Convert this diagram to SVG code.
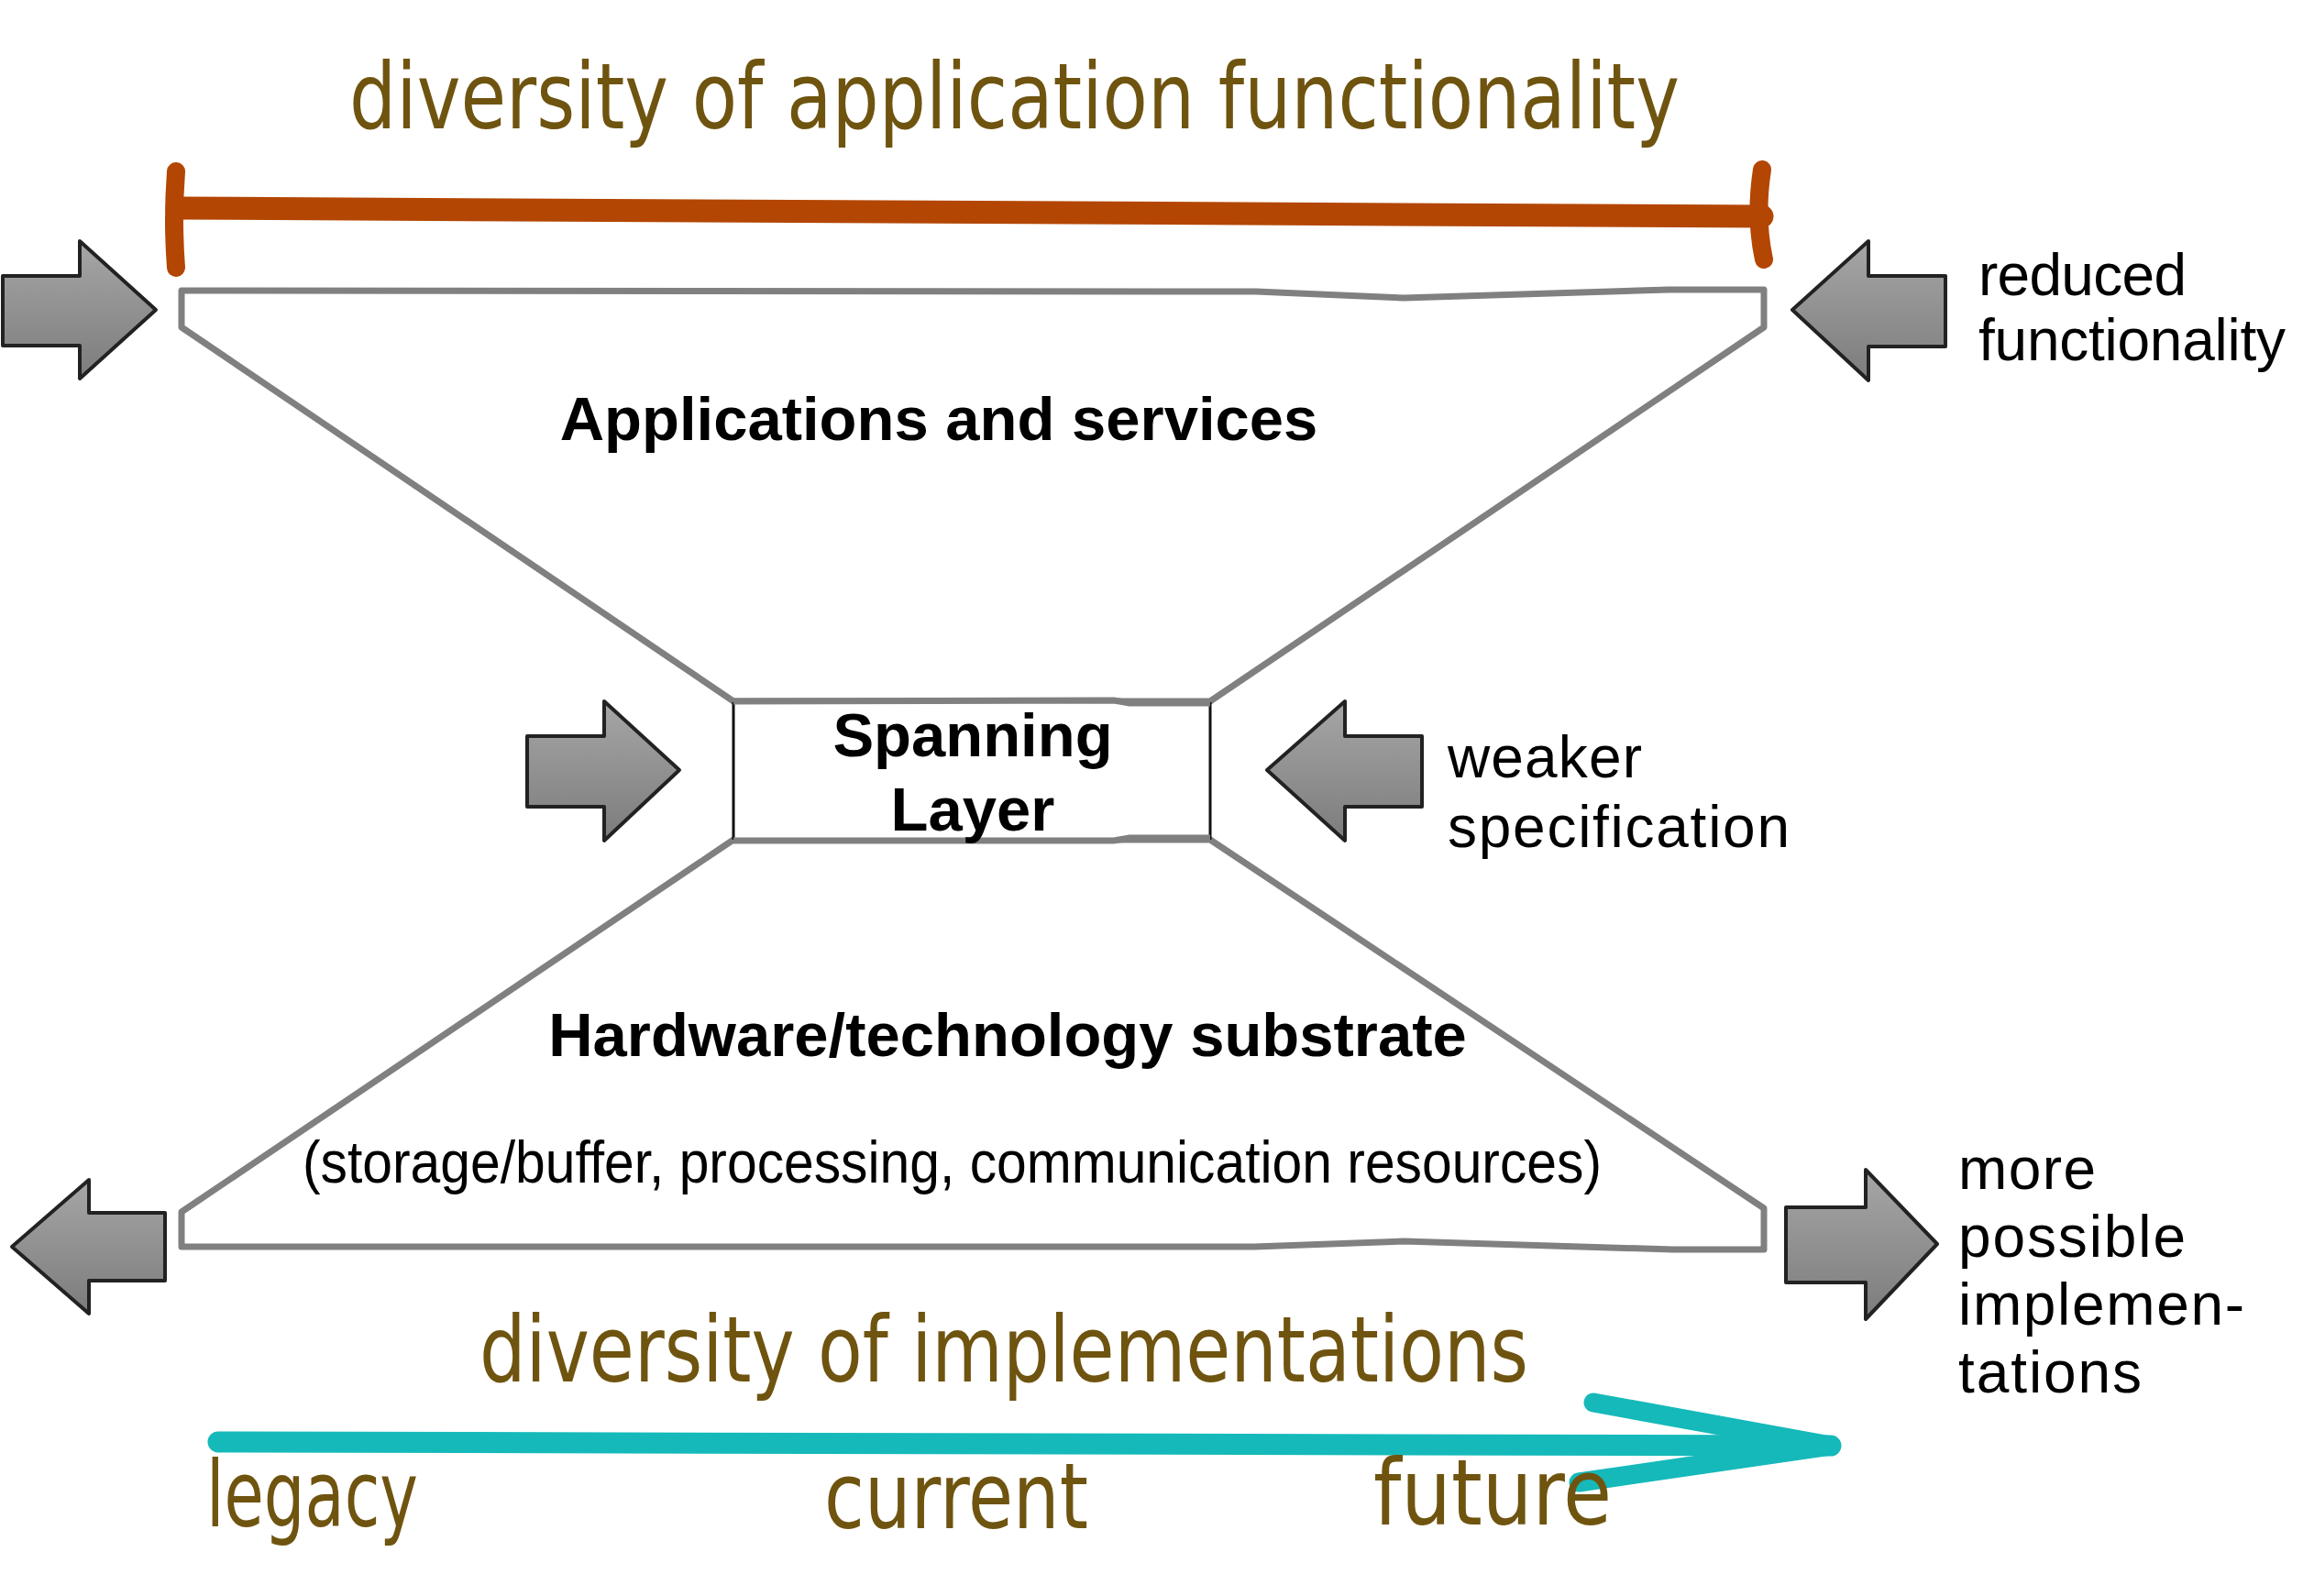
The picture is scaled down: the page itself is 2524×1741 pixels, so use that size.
<svg xmlns="http://www.w3.org/2000/svg" width="2524" height="1741" viewBox="0 0 2524 1741">
<defs>
<linearGradient id="g" x1="0" y1="0" x2="0" y2="1">
<stop offset="0" stop-color="#a6a6a6"/>
<stop offset="1" stop-color="#7c7c7c"/>
</linearGradient>
<style>
.hand{font-family:"DejaVu Sans","Noto Sans",sans-serif;font-size:100px;fill:#6f5410;}
.lbl{font-family:"Liberation Sans",Arial,sans-serif;font-size:64px;fill:#000;}
.bold{font-family:"Liberation Sans",Arial,sans-serif;font-weight:bold;font-size:67px;fill:#000;text-anchor:middle;}
.shape{fill:#fff;stroke:#808080;stroke-width:7;stroke-linejoin:round;}
.arr{fill:url(#g);stroke:#222;stroke-width:4;stroke-linejoin:round;}
.side{stroke:#111;stroke-width:3;}
</style>
</defs>

<g id="title">
<text class="hand" x="381" y="140" textLength="1451" lengthAdjust="spacingAndGlyphs">diversity of application functionality</text>
</g>

<g id="range-bar" fill="none" stroke="#b34602" stroke-linecap="round">
<path d="M193,227 L1922,236" stroke-width="25"/>
<path d="M192,187 Q188,240 192,292" stroke-width="20"/>
<path d="M1922,185 Q1914,237 1924,283" stroke-width="20"/>
</g>

<g id="applications">
<path class="shape" d="M800,765 L198,357 L198,317 L1370,318 L1531,325 L1820,316 L1924,316 L1924,357 L1320,765 Z"/>
<text class="bold" x="1024" y="480">Applications and services</text>
</g>

<g id="hardware">
<path class="shape" d="M800,916 L198,1322 L198,1360 L1368,1360 L1531,1354 L1824,1363 L1924,1363 L1924,1318 L1320,916 Z"/>
<text class="bold" x="1099" y="1152">Hardware/technology substrate</text>
<text class="lbl" x="330" y="1290" font-size="53" textLength="1417" lengthAdjust="spacingAndGlyphs">(storage/buffer, processing, communication resources)</text>
</g>

<g id="spanning-layer">
<rect x="800" y="766" width="520" height="150" fill="#fff"/>
<line class="side" x1="800" y1="766" x2="800" y2="916"/>
<line class="side" x1="1320" y1="766" x2="1320" y2="916"/>
<path d="M800,765 L1215,764 L1232,767 L1320,767" fill="none" stroke="#808080" stroke-width="7"/>
<path d="M800,917 L1215,917 L1232,914 L1320,914" fill="none" stroke="#808080" stroke-width="7"/>
<text class="bold" x="1061" y="825">Spanning</text>
<text class="bold" x="1061" y="906">Layer</text>
</g>

<g id="arrows">
<path class="arr" d="M3,301 L87,301 L87,263 L170,338 L87,413 L87,377 L3,377 Z"/>
<path class="arr" d="M2122,301 L2038,301 L2038,263 L1955,338 L2038,415 L2038,378 L2122,378 Z"/>
<path class="arr" d="M575,803 L659,803 L659,765 L741,840 L659,917 L659,880 L575,880 Z"/>
<path class="arr" d="M1551,803 L1467,803 L1467,765 L1382,840 L1467,917 L1467,880 L1551,880 Z"/>
<path class="arr" d="M180,1323 L97,1323 L97,1287 L13,1360 L97,1433 L97,1397 L180,1397 Z"/>
<path class="arr" d="M1948,1317 L2035,1317 L2035,1276 L2113,1357 L2035,1439 L2035,1399 L1948,1399 Z"/>
</g>

<g id="labels">
<text class="lbl" x="2158" y="322" textLength="227">reduced</text>
<text class="lbl" x="2158" y="393" textLength="335">functionality</text>
<text class="lbl" x="1579" y="848" textLength="212">weaker</text>
<text class="lbl" x="1579" y="924" textLength="373">specification</text>
<text class="lbl" x="2136" y="1297" textLength="150">more</text>
<text class="lbl" x="2136" y="1371" textLength="248">possible</text>
<text class="lbl" x="2136" y="1445" textLength="312">implemen-</text>
<text class="lbl" x="2136" y="1519" textLength="200">tations</text>
</g>

<g id="timeline" fill="none" stroke="#15b9ba" stroke-linecap="round">
<path d="M238,1573 L1997,1577" stroke-width="23"/>
<path d="M1738,1530 L1997,1577 L1722,1617" stroke-width="21" stroke-linejoin="round"/>
</g>

<g id="timeline-labels">
<text class="hand" x="523" y="1507" textLength="1144" lengthAdjust="spacingAndGlyphs">diversity of implementations</text>
<text class="hand" x="225" y="1665" textLength="231" lengthAdjust="spacingAndGlyphs">legacy</text>
<text class="hand" x="899" y="1667" textLength="288" lengthAdjust="spacingAndGlyphs">current</text>
<text class="hand" x="1498" y="1663" textLength="260" lengthAdjust="spacingAndGlyphs">future</text>
</g>
</svg>
